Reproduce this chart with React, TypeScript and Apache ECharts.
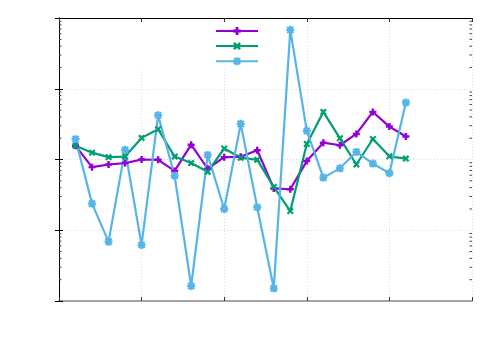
import React, { useEffect, useRef } from "react";
import * as echarts from "echarts";

const xValues = [1, 2, 3, 4, 5, 6, 7, 8, 9, 10, 11, 12, 13, 14, 15, 16, 17, 18, 19, 20, 21];
const purpleValues = [1.56, 0.78, 0.85, 0.89, 1.0, 0.99, 0.69, 1.62, 0.74, 1.08, 1.09, 1.35, 0.39, 0.38, 0.95, 1.73, 1.59, 2.3, 4.7, 2.92, 2.11];
const greenValues = [1.56, 1.25, 1.08, 1.1, 2.02, 2.68, 1.1, 0.89, 0.67, 1.43, 1.06, 0.99, 0.41, 0.187, 1.66, 4.7, 2.0, 0.85, 1.95, 1.11, 1.03];
const blueValues = [1.94, 0.238, 0.069, 1.37, 0.062, 4.23, 0.59, 0.0163, 1.16, 0.2, 3.19, 0.211, 0.0151, 68, 2.54, 0.555, 0.75, 1.28, 0.875, 0.64, 6.38];
const seriesNames = ["s1", "s2", "s3"];
const seriesColors = ["#9400d3", "#009e73", "#56b4e9"];

const xMin = 0;
const xMax = 25;
const xInterval = 5;
const yMin = 0.01;
const yMax = 100;
const decades = [0.01, 0.1, 1, 10];
const minorMultipliers = [2, 3, 4, 5, 6, 7, 8, 9];

const plusPath = "path://M-1,-0.35H-0.35V-1H0.35V-0.35H1V0.35H0.35V1H-0.35V0.35H-1Z";
const crossPath = "path://M-1,-0.55L-0.55,-1L0,-0.45L0.55,-1L1,-0.55L0.45,0L1,0.55L0.55,1L0,0.45L-0.55,1L-1,0.55L-0.45,0Z";
const starPath =
  "path://M-1,-0.3H-0.3V-1H0.3V-0.3H1V0.3H0.3V1H-0.3V0.3H-1Z M-0.95,-0.6L-0.6,-0.95L0,-0.35L0.6,-0.95L0.95,-0.6L0.35,0L0.95,0.6L0.6,0.95L0,0.35L-0.6,0.95L-0.95,0.6L-0.35,0Z";

export default function App() {
  const ref = useRef<HTMLDivElement>(null);
  useEffect(() => {
    if (!ref.current) return;
    const chart = echarts.init(ref.current, null, { renderer: "svg" });
    const minorTicks: number[][] = [];
    decades.forEach((d) => minorMultipliers.forEach((m) => minorTicks.push([m * d])));
    const mk = (vals: number[]) => xValues.map((x, i) => [x, vals[i]]);
    const lineSeries = (name: string, color: string, vals: number[], symbol: string, size: number) => ({
      name,
      type: "line",
      data: mk(vals),
      symbol,
      symbolSize: size,
      showSymbol: true,
      showAllSymbol: true,
      lineStyle: { color, width: 2.2 },
      itemStyle: { color },
      z: 3,
    });
    const gridLine = { show: true, lineStyle: { color: "#dcdcdc", type: [1, 2], width: 1 } };
    chart.setOption({
      animation: false,
      backgroundColor: "#ffffff",
      grid: { left: 59, top: 18, right: 28, bottom: 49, containLabel: false },
      legend: {
        orient: "vertical",
        left: 210,
        top: 21,
        itemWidth: 42,
        itemHeight: 10,
        itemGap: 6.1,
        data: seriesNames,
        formatter: () => "",
        textStyle: { fontSize: 8 },
        selectedMode: false,
      },
      xAxis: [
        {
          type: "value",
          min: xMin,
          max: xMax,
          interval: xInterval,
          axisLine: { show: true, lineStyle: { color: "#888888", width: 1.5 } },
          axisTick: { show: true, inside: true, length: 4, lineStyle: { color: "#333" } },
          axisLabel: { show: false },
          splitLine: gridLine,
        },
        {
          type: "value",
          position: "top",
          min: xMin,
          max: xMax,
          interval: xInterval,
          axisLine: { show: true, lineStyle: { color: "#000", width: 1 } },
          axisTick: { show: true, inside: true, length: 4, lineStyle: { color: "#333" } },
          axisLabel: { show: false },
          splitLine: { show: false },
        },
      ],
      yAxis: [
        {
          type: "log",
          logBase: 10,
          min: yMin,
          max: yMax,
          axisLine: { show: true, lineStyle: { color: "#000", width: 1 } },
          axisTick: { show: true, inside: true, length: 4, lineStyle: { color: "#000" } },
          axisLabel: { show: false },
          splitLine: gridLine,
        },
        {
          type: "log",
          logBase: 10,
          position: "right",
          min: yMin,
          max: yMax,
          axisLine: { show: true, lineStyle: { color: "#000", width: 1 } },
          axisTick: { show: true, inside: true, length: 4, lineStyle: { color: "#000" } },
          axisLabel: { show: false },
          splitLine: { show: false },
        },
      ],
      graphic: [
        {
          type: "rect",
          shape: { x: 100, y: 23, width: 162, height: 45 },
          style: { fill: "#ffffff" },
          z: 1,
          silent: true,
        },
      ],
      series: [
        {
          type: "custom",
          silent: true,
          z: 2,
          data: minorTicks,
          encode: { y: 0 },
          renderItem: (_params: any, api: any) => {
            const v = api.value(0);
            const l = api.coord([xMin, v]);
            const r = api.coord([xMax, v]);
            const st = { stroke: "#444", lineWidth: 1 };
            return {
              type: "group",
              children: [
                { type: "line", shape: { x1: l[0], y1: l[1], x2: l[0] + 2.5, y2: l[1] }, style: st },
                { type: "line", shape: { x1: r[0], y1: r[1], x2: r[0] - 2.5, y2: r[1] }, style: st },
              ],
            };
          },
        },
        lineSeries(seriesNames[0], seriesColors[0], purpleValues, plusPath, 7),
        lineSeries(seriesNames[1], seriesColors[1], greenValues, crossPath, 7),
        lineSeries(seriesNames[2], seriesColors[2], blueValues, starPath, 8),
      ],
    });
    return () => chart.dispose();
  }, []);
  return <div ref={ref} style={{ position: "fixed", left: 0, top: 0, width: 500, height: 350 }} />;
}
